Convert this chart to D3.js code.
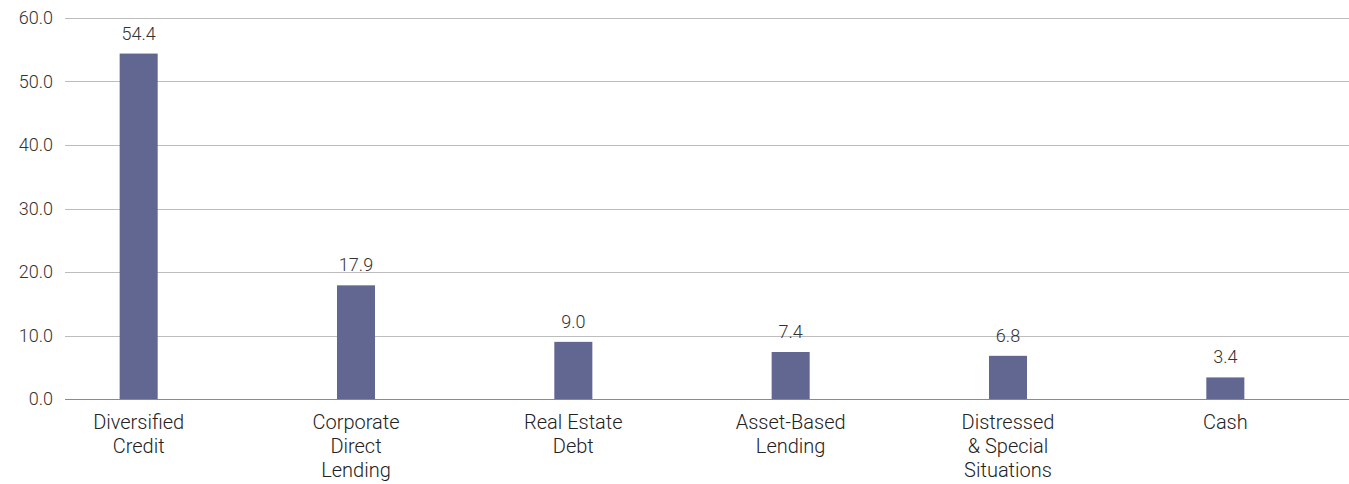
<!DOCTYPE html>
<html>
<head>
<meta charset="utf-8">
<script src="https://cdn.jsdelivr.net/npm/d3@7"></script>
<style>
  html, body { margin: 0; padding: 0; background: #fff; }
  svg { display: block; font-family: Roboto, "Noto Sans", sans-serif; font-weight: 300; }
</style>
</head>
<body>
<svg id="chart" width="1349" height="484"></svg>
<script>
// Allocation by strategy (%)
const categories = [
  ["Diversified", "Credit"],
  ["Corporate", "Direct", "Lending"],
  ["Real Estate", "Debt"],
  ["Asset-Based", "Lending"],
  ["Distressed", "& Special", "Situations"],
  ["Cash"]
];
const values = [54.4, 17.9, 9.0, 7.4, 6.8, 3.4];
const yTicks = [0, 10, 20, 30, 40, 50, 60];

const svg = d3.select("#chart");
const W = 1349, H = 484;
const gridLeft = 65, gridRight = W;

const y = d3.scaleLinear().domain([0, 60]).range([399, 18]);
const x = d3.scaleBand()
  .domain(d3.range(categories.length))
  .range([30, 1334])
  .paddingInner(0.825)
  .paddingOuter(0.4125);

// gridlines
svg.append("g")
  .selectAll("line")
  .data(yTicks)
  .join("line")
  .attr("x1", gridLeft).attr("x2", gridRight)
  .attr("y1", d => Math.round(y(d)) + 0.5)
  .attr("y2", d => Math.round(y(d)) + 0.5)
  .attr("stroke", d => d === 0 ? "#8a8a8a" : "#bdbdbd")
  .attr("stroke-width", 1);

// y axis labels
const yAxis = d3.axisLeft(y).tickValues(yTicks).tickFormat(d3.format(".1f")).tickSize(0).tickPadding(0);
const yg = svg.append("g").attr("transform", "translate(53,0)").call(yAxis);
yg.select(".domain").remove();
yg.selectAll("text")
  .attr("font-size", 18)
  .attr("fill", "#333")
  .attr("font-family", "Roboto, sans-serif")
  .attr("font-weight", 300);

// bars
svg.append("g")
  .selectAll("rect")
  .data(values)
  .join("rect")
  .attr("x", (d, i) => x(i))
  .attr("width", x.bandwidth())
  .attr("y", d => y(d))
  .attr("height", d => y(0) - y(d))
  .attr("fill", "#626791");

// value labels
svg.append("g")
  .selectAll("text")
  .data(values)
  .join("text")
  .attr("x", (d, i) => x(i) + x.bandwidth() / 2)
  .attr("y", d => y(d) - 14)
  .attr("text-anchor", "middle")
  .attr("font-size", 18)
  .attr("fill", "#333")
  .text(d => d3.format(".1f")(d));

// category labels
const cat = svg.append("g")
  .selectAll("text")
  .data(categories)
  .join("text")
  .attr("text-anchor", "middle")
  .attr("font-size", 20)
  .attr("fill", "#222");
cat.each(function(lines, i) {
  const t = d3.select(this);
  lines.forEach((ln, k) => {
    t.append("tspan")
      .attr("x", x(i) + x.bandwidth() / 2)
      .attr("y", 429 + k * 24)
      .text(ln);
  });
});
</script>
</body>
</html>
